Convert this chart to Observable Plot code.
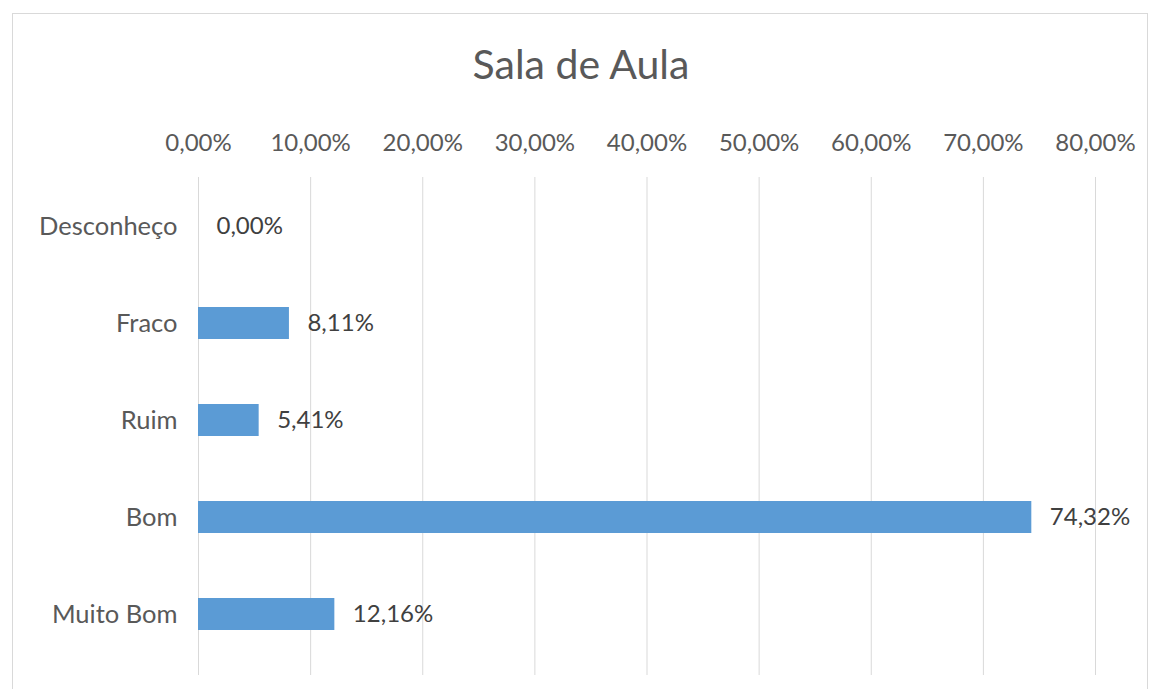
<!DOCTYPE html>
<html>
<head>
<meta charset="utf-8">
<script src="https://cdn.jsdelivr.net/npm/d3@7"></script>
<script src="https://cdn.jsdelivr.net/npm/@observablehq/plot@0.6"></script>
<style>
  body { margin: 0; background: #fff; font-family: Lato, "Open Sans", sans-serif; }
  #wrap { position: relative; width: 1151px; height: 689px; overflow: hidden; }
  #frame { position: absolute; left: 12px; top: 13px; width: 1136px; height: 690px; border: 1px solid #d9d9d9; box-sizing: border-box; }
  #title { position: absolute; left: 0; width: 1162px; top: 43px; line-height: 1; text-align: center; font-size: 41px; color: #595959; font-family: Lato, sans-serif; }
  #chart { position: absolute; left: 0; top: 0; }
</style>
</head>
<body>
<div id="wrap">
  <div id="frame"></div>
  <div id="title">Sala de Aula</div>
  <div id="chart"></div>
</div>
<script>
const categories = ["Desconheço", "Fraco", "Ruim", "Bom", "Muito Bom"];
const values = [0.00, 8.11, 5.41, 74.32, 12.16];
const xTicks = [0, 10, 20, 30, 40, 50, 60, 70, 80];

const data = categories.map((c, i) => ({category: c, value: values[i]}));
const fmt = v => v.toFixed(2).replace(".", ",") + "%";

const plot = Plot.plot({
  width: 1151,
  height: 689,
  marginLeft: 198,
  marginRight: 56,
  marginTop: 177,
  marginBottom: 14,
  insetBottom: 11,
  style: {fontFamily: "Lato, sans-serif", fontSize: "25px", color: "#595959", background: "transparent", overflow: "visible"},
  x: {domain: [0, 80], ticks: xTicks, tickFormat: fmt, axis: null},
  y: {domain: categories, paddingInner: 0.67, paddingOuter: 0.34, axis: null},
  marks: [
    Plot.gridX(xTicks, {stroke: "#d9d9d9", strokeOpacity: 1, strokeWidth: 1}),
    Plot.axisX(xTicks, {anchor: "top", label: null, tickSize: 0, tickPadding: 27, tickFormat: fmt, fill: "#595959", fontSize: 24}),
    Plot.axisY({anchor: "left", label: null, tickSize: 0, tickPadding: 21, fill: "#595959", fontSize: 25.5}),
    Plot.barX(data, {x: "value", y: "category", fill: "#5b9bd5"}),
    Plot.text(data, {x: "value", y: "category", text: d => fmt(d.value), textAnchor: "start", dx: 18, fill: "#404040", fontSize: 24})
  ]
});
document.getElementById("chart").appendChild(plot);
</script>
</body>
</html>
